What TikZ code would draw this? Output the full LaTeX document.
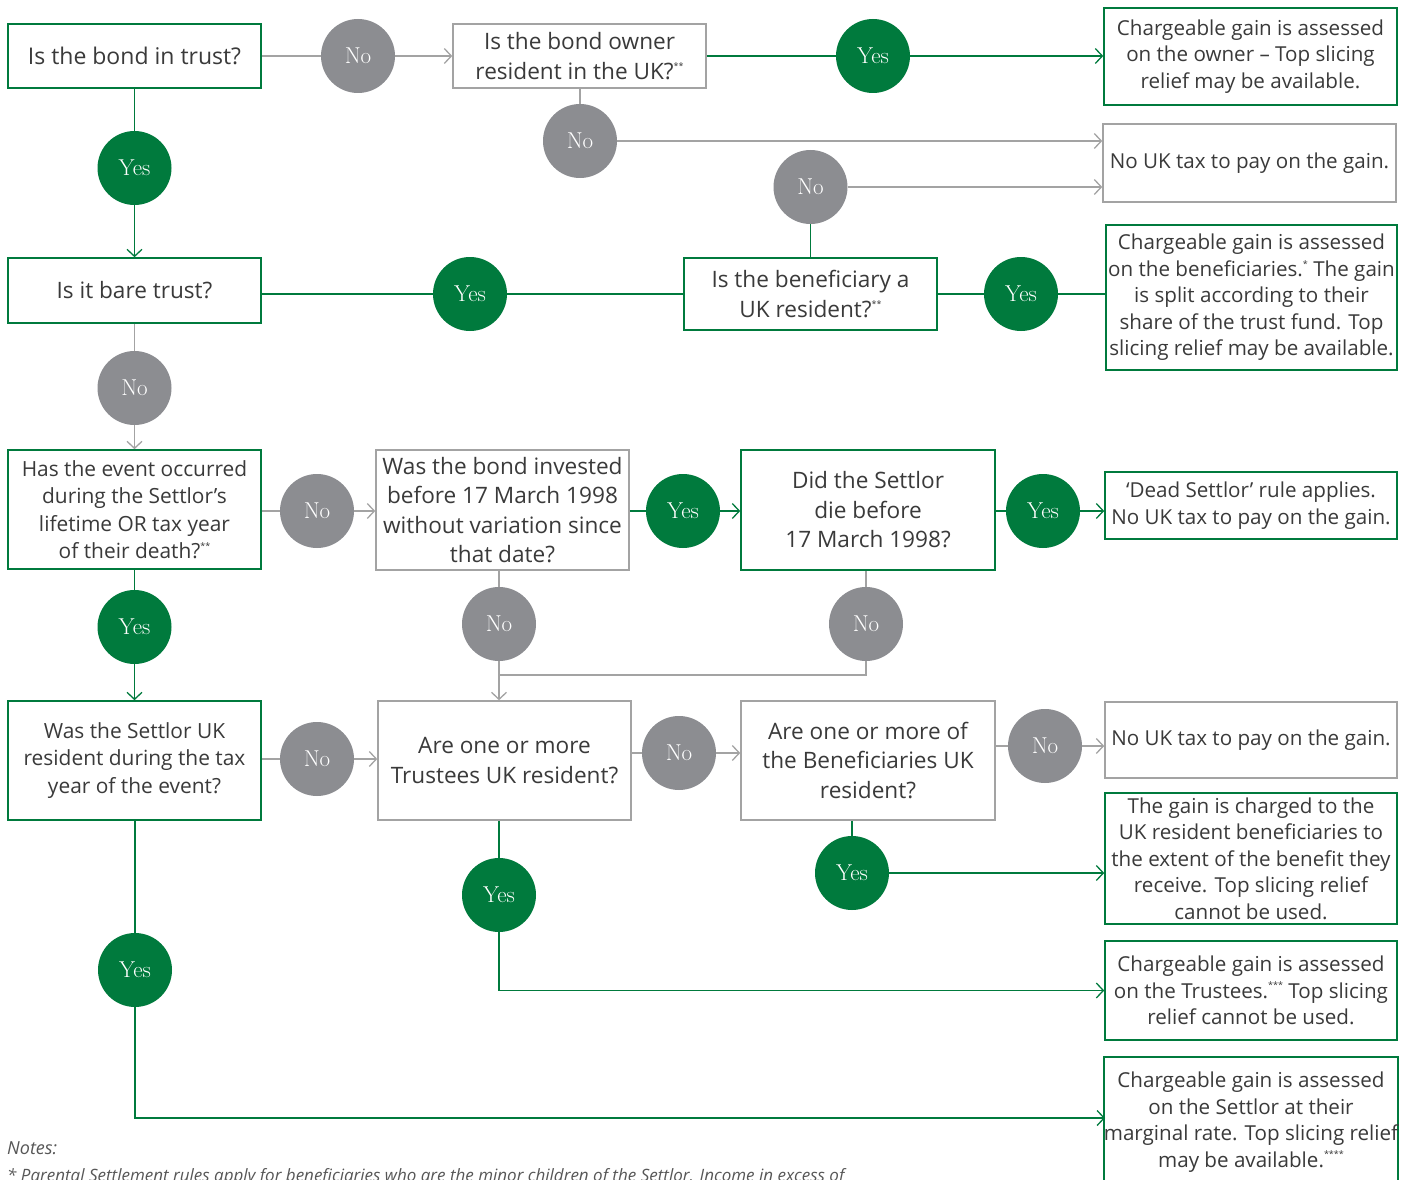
\documentclass[tikz,border=0pt]{standalone}
\usepackage{fontspec}
\newfontfamily\osans{Open Sans}
\usetikzlibrary{arrows.meta}
\definecolor{tgreen}{HTML}{007A3D}
\definecolor{cgray}{HTML}{8C8D91}
\definecolor{lgray}{HTML}{A3A3A3}
\definecolor{txt}{HTML}{3A3A3A}
\newcommand\fnast[1]{\raisebox{0.45em}{\fontsize{9}{9}\selectfont #1}}
\newcommand\rfont{\osans\fontsize{20.6}{26.5}\selectfont}
\newcommand\mfont{\osans\fontsize{20.9}{27.5}\selectfont}
\newcommand\qfont{\osans\fontsize{22.6}{29.5}\selectfont}
\tikzset{
  boxbase/.style={rectangle, line width=1.6pt, fill=white, inner sep=0pt, align=center, text=txt, font=\rfont},
  gbox/.style={boxbase, draw=tgreen},
  ybox/.style={boxbase, draw=lgray},
  yesc/.style={circle, fill=tgreen, minimum size=74pt, inner sep=0pt, text=white, font=\fontsize{23}{23}\selectfont},
  noc/.style={circle, fill=cgray, minimum size=74pt, inner sep=0pt, text=white, font=\fontsize{23}{23}\selectfont},
  gline/.style={draw=tgreen, line width=1.3pt},
  nline/.style={draw=lgray, line width=1.3pt},
  arr/.style={-{Straight Barb[length=7pt,width=15pt,line width=1.3pt]}}
}
\begin{document}
\begin{tikzpicture}[x=1pt,y=-1pt]
\useasboundingbox (0,0) rectangle (1411,1180);
\clip (0,0) rectangle (1411,1180);
\fill[white] (0,0) rectangle (1411,1180);
% boxes
\node[gbox, minimum width=253, minimum height=64, font=\osans\fontsize{23}{29.5}\selectfont] (b1) at (134.5,56) {Is the bond in trust?};
\node[ybox, minimum width=253, minimum height=64, font=\qfont] (b2) at (579.5,56) {Is the bond owner\\resident in the UK?\fnast{**}};
\node[gbox, minimum width=293, minimum height=97] (r1) at (1250.5,56.5) {Chargeable gain is assessed\\on the owner – Top slicing\\relief may be available.};
\node[ybox, minimum width=293, minimum height=78] (r2) at (1249.5,163) {No UK tax to pay on the gain.};
\node[gbox, minimum width=253, minimum height=65, font=\qfont] (b3) at (134.5,290.5) {Is it bare trust?};
\node[gbox, minimum width=253, minimum height=72, font=\qfont] (b4) at (810.5,294) {Is the beneficiary a\\UK resident?\fnast{**}};
\node[gbox, minimum width=291, minimum height=145] (r3) at (1251.5,297.5) {Chargeable gain is assessed\\on the beneficiaries.\fnast{*} The gain\\is split according to their\\share of the trust fund. Top\\slicing relief may be available.};
\node[gbox, minimum width=253, minimum height=119, font=\mfont] (b5) at (134.5,509.5) {Has the event occurred\\during the Settlor’s\\lifetime OR tax year\\of their death?\fnast{**}};
\node[ybox, minimum width=253, minimum height=120, font=\qfont] (b6) at (502.5,510) {Was the bond invested\\before 17 March 1998\\without variation since\\that date?};
\node[gbox, minimum width=254, minimum height=120, font=\qfont] (b7) at (868,510) {Did the Settlor\\die before\\17 March 1998?};
\node[gbox, minimum width=292, minimum height=67] (r4) at (1251,505.5) {‘Dead Settlor’ rule applies.\\No UK tax to pay on the gain.};
\node[gbox, minimum width=253, minimum height=119, font=\mfont] (b8) at (134.5,760.5) {Was the Settlor UK\\resident during the tax\\year of the event?};
\node[ybox, minimum width=253, minimum height=119, font=\qfont] (b9) at (504.5,760.5) {Are one or more\\Trustees UK resident?};
\node[ybox, minimum width=254, minimum height=119, font=\qfont] (b10) at (868,760.5) {Are one or more of\\the Beneficiaries UK\\resident?};
\node[ybox, minimum width=292, minimum height=76] (r5) at (1251,740) {No UK tax to pay on the gain.};
\node[gbox, minimum width=292, minimum height=131] (r6) at (1251,858.5) {The gain is charged to the\\UK resident beneficiaries to\\the extent of the benefit they\\receive. Top slicing relief\\cannot be used.};
\node[gbox, minimum width=292, minimum height=99] (r7) at (1251,990.5) {Chargeable gain is assessed\\on the Trustees.\fnast{***} Top slicing\\relief cannot be used.};
\node[gbox, minimum width=292, minimum height=130] (r8) at (1251,1122) {Chargeable gain is assessed\\on the Settlor at their\\marginal rate. Top slicing relief\\may be available.\fnast{****}};
% circles
\node[noc] (n1) at (358,56) {No};
\node[yesc] (y1) at (873,56) {Yes};
\node[yesc] (y2) at (134.5,168) {Yes};
\node[noc] (n2) at (580,141) {No};
\node[noc] (n3) at (810.5,187) {No};
\node[yesc] (y3) at (470,294) {Yes};
\node[yesc] (y4) at (1021,294) {Yes};
\node[noc] (n4) at (134.5,388) {No};
\node[noc] (n5) at (317,511) {No};
\node[yesc] (y5) at (683,511) {Yes};
\node[yesc] (y6) at (1043,511) {Yes};
\node[yesc] (y7) at (134.5,627) {Yes};
\node[noc] (n6) at (499,624) {No};
\node[noc] (n7) at (866,624) {No};
\node[noc] (n8) at (317,759) {No};
\node[noc] (n9) at (679,753) {No};
\node[noc] (n10) at (1045,746) {No};
\node[yesc] (y8) at (852,873) {Yes};
\node[yesc] (y9) at (499,895) {Yes};
\node[yesc] (y10) at (135,970) {Yes};
\coordinate (j) at (499,675);
\coordinate (e10) at (1105,1118);
% connectors
\draw[nline] (n1 -| b1.east) -- (n1);
\draw[nline,arr] (n1) -- (n1 -| b2.west);
\draw[gline] (y1 -| b2.east) -- (y1);
\draw[gline,arr] (y1) -- (y1 -| r1.west);
\draw[gline] (y2 |- b1.south) -- (y2);
\draw[gline,arr] (y2) -- (y2 |- b3.north);
\draw[nline] (n2 |- b2.south) -- (n2);
\draw[nline,arr] (n2) -- (n2 -| r2.west);
\draw[gline] (n3 |- b4.north) -- (n3);
\draw[nline,arr] (n3) -- (n3 -| r2.west);
\draw[gline] (y3 -| b3.east) -- (y3);
\draw[gline] (y3) -- (y3 -| b4.west);
\draw[gline] (y4 -| b4.east) -- (y4);
\draw[gline] (y4) -- (y4 -| r3.west);
\draw[nline] (n4 |- b3.south) -- (n4);
\draw[nline,arr] (n4) -- (n4 |- b5.north);
\draw[nline] (n5 -| b5.east) -- (n5);
\draw[nline,arr] (n5) -- (n5 -| b6.west);
\draw[gline] (y5 -| b6.east) -- (y5);
\draw[gline,arr] (y5) -- (y5 -| b7.west);
\draw[gline] (y6 -| b7.east) -- (y6);
\draw[gline,arr] (y6) -- (y6 -| r4.west);
\draw[gline] (y7 |- b5.south) -- (y7);
\draw[gline,arr] (y7) -- (y7 |- b8.north);
\draw[nline] (n6 |- b6.south) -- (n6);
\draw[nline,arr] (n6) -- (n6 |- b9.north);
\draw[nline] (n7 |- b7.south) -- (n7);
\draw[nline] (n7) |- (j);
\draw[nline] (n8 -| b8.east) -- (n8);
\draw[nline,arr] (n8) -- (n8 -| b9.west);
\draw[nline] (n9 -| b9.east) -- (n9);
\draw[nline,arr] (n9) -- (n9 -| b10.west);
\draw[nline] (n10 -| b10.east) -- (n10);
\draw[nline,arr] (n10) -- (n10 -| r5.west);
\draw[gline] (y8 |- b10.south) -- (y8);
\draw[gline,arr] (y8) -- (y8 -| r6.west);
\draw[gline] (y9 |- b9.south) -- (y9);
\draw[gline,arr] (y9) |- (r7.west);
\draw[gline] (y10 |- b8.south) -- (y10);
\draw[gline,arr] (y10) |- (e10);
% notes
\node[anchor=west, inner sep=0pt, text=txt!85, font=\osans\itshape\fontsize{18}{18}\selectfont] (notes) at (7,1148) {Notes:};
\node[anchor=west, inner sep=0pt, text=txt!85, font=\osans\itshape\fontsize{17}{17}\selectfont] (fn1) at (7,1177) {* Parental Settlement rules apply for beneficiaries who are the minor children of the Settlor. Income in excess of};
\end{tikzpicture}
\end{document}
